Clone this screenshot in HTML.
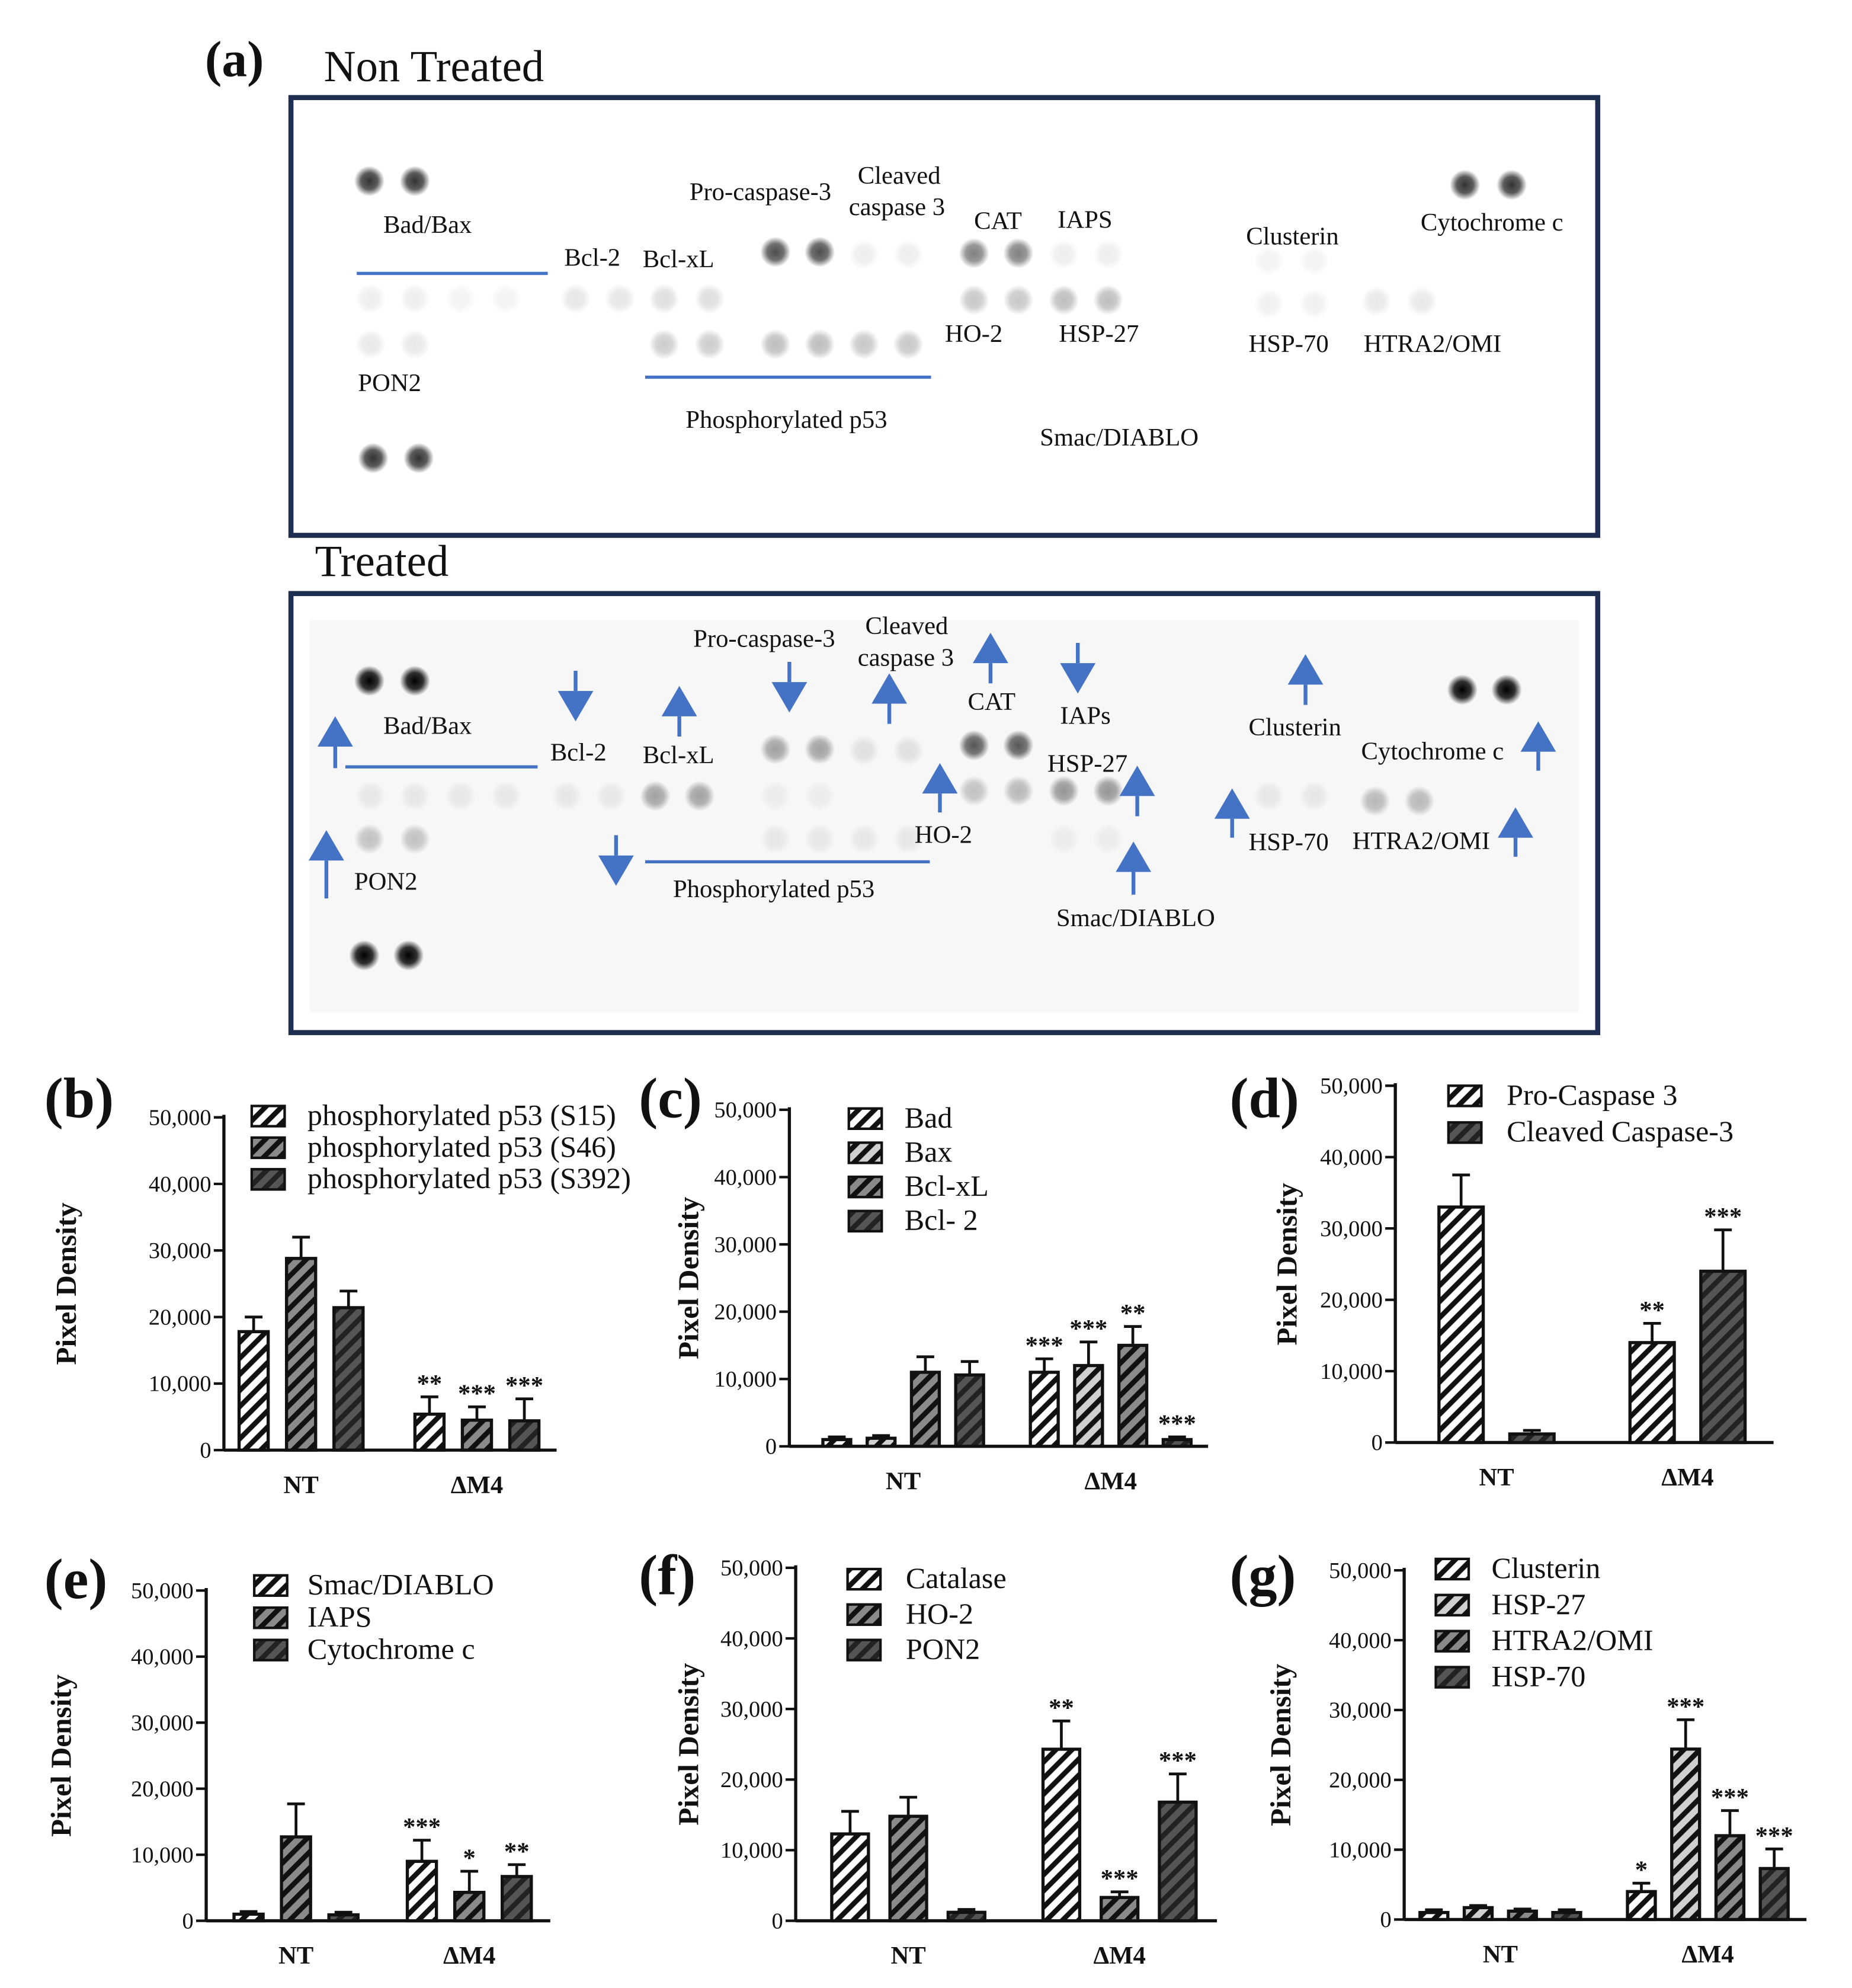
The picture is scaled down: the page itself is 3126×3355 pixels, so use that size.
<!DOCTYPE html>
<html><head><meta charset="utf-8">
<style>
html,body{margin:0;padding:0;background:#fff;}
svg{display:block;}
text{font-family:"Liberation Serif",serif;fill:#111;}
</style></head>
<body>
<svg id="fig" width="3126" height="3355" viewBox="0 0 1464 1571" xmlns="http://www.w3.org/2000/svg">
<defs>
<pattern id="p0" patternUnits="userSpaceOnUse" width="9" height="9" patternTransform="rotate(45)"><rect width="9" height="9" fill="#fff"/><rect width="4" height="9" fill="#111"/></pattern>
<pattern id="p1" patternUnits="userSpaceOnUse" width="9" height="9" patternTransform="rotate(45)"><rect width="9" height="9" fill="#d0d0d0"/><rect width="4" height="9" fill="#111"/></pattern>
<pattern id="p2" patternUnits="userSpaceOnUse" width="9" height="9" patternTransform="rotate(45)"><rect width="9" height="9" fill="#8a8a8a"/><rect width="4" height="9" fill="#111"/></pattern>
<pattern id="p3" patternUnits="userSpaceOnUse" width="9" height="9" patternTransform="rotate(45)"><rect width="9" height="9" fill="#555"/><rect width="4" height="9" fill="#222"/></pattern>
<radialGradient id="dotg"><stop offset="0" stop-color="#000" stop-opacity="1"/><stop offset="0.55" stop-color="#000" stop-opacity="0.8"/><stop offset="1" stop-color="#000" stop-opacity="0"/></radialGradient>
</defs>

<text x="162" y="60" font-size="40" font-weight="bold">(a)</text>
<text x="256" y="64" font-size="35">Non Treated</text>
<rect x="230" y="77" width="1033" height="346" fill="#fff" stroke="#1f2d50" stroke-width="4"/>
<text x="249" y="455" font-size="35">Treated</text>
<rect x="230" y="469" width="1033" height="347" fill="#fff" stroke="#1f2d50" stroke-width="4"/>
<rect x="245" y="490" width="1003" height="310" fill="#f7f7f7"/>
<g id="blot"></g>
<g id="charts"></g>
</svg>
<script>
const NS="http://www.w3.org/2000/svg";
const svg=document.getElementById('fig');
const blot=document.getElementById('blot');
const charts=document.getElementById('charts');
function mk(tag,attrs,parent,txt){const e=document.createElementNS(NS,tag);for(const k in attrs)e.setAttribute(k,attrs[k]);if(txt!==undefined)e.textContent=txt;(parent||svg).appendChild(e);return e;}

const ntDots=[[292,143,0.8],[328,143,0.8],[1158,146,0.8],[1195,146,0.8],[295,362,0.8],[331,362,0.8],[613,199,0.7],[648,199,0.7],[770,200,0.5],[805,200,0.5],
[683,201,0.07],[718,201,0.07],[841,201,0.07],[876,201,0.07],[1003,206,0.05],[1039,206,0.05],
[293,236,0.07],[328,236,0.07],[364,236,0.05],[400,236,0.05],[455,236,0.1],[490,236,0.1],[525,236,0.13],[561,236,0.13],[770,237,0.22],[805,237,0.22],[841,237,0.26],[876,237,0.26],[1003,240,0.06],[1039,240,0.06],[1088,238,0.09],[1124,238,0.09],
[293,272,0.09],[328,272,0.09],[525,272,0.2],[561,272,0.2],[613,272,0.26],[648,272,0.26],[683,272,0.22],[718,272,0.22]];
const tDots=[[292,538,1],[328,538,1],[1156,545,1],[1191,545,1],[288,755,1],[323,755,1],[613,592,0.35],[648,592,0.35],[770,589,0.65],[805,589,0.65],[683,593,0.1],[718,593,0.1],
[293,629,0.07],[328,629,0.07],[364,629,0.07],[400,629,0.07],[448,629,0.07],[483,629,0.07],[518,629,0.35],[553,629,0.35],[613,629,0.05],[648,629,0.05],[770,625,0.22],[805,625,0.26],[841,625,0.4],[876,625,0.4],[1003,629,0.07],[1039,629,0.07],[1087,633,0.26],[1122,633,0.26],
[292,663,0.22],[328,663,0.22],[613,663,0.07],[648,663,0.07],[683,663,0.07],[718,663,0.07],[841,663,0.05],[876,663,0.05]];
function dots(list,name){list.forEach(d=>{const c=mk('circle',{cx:d[0],cy:d[1],r:12,fill:'url(#dotg)',opacity:d[2]},blot);

});}
dots(ntDots,'blot-spot-non-treated');dots(tDots,'blot-spot-treated');

const blotLabels=[
[303,184,'Bad/Bax'],[446,210,'Bcl-2'],[508,211,'Bcl-xL'],[545,158,'Pro-caspase-3'],[678,145,'Cleaved'],[671,170,'caspase 3'],[770,181,'CAT'],[836,180,'IAPS'],[985,193,'Clusterin'],[1123,182,'Cytochrome c'],[747,270,'HO-2'],[837,270,'HSP-27'],[987,278,'HSP-70'],[1078,278,'HTRA2/OMI'],[283,309,'PON2'],[542,338,'Phosphorylated p53'],[822,352,'Smac/DIABLO'],
[303,580,'Bad/Bax'],[435,601,'Bcl-2'],[508,603,'Bcl-xL'],[548,511,'Pro-caspase-3'],[684,501,'Cleaved'],[678,526,'caspase 3'],[765,561,'CAT'],[838,572,'IAPs'],[987,581,'Clusterin'],[1076,600,'Cytochrome c'],[828,610,'HSP-27'],[723,666,'HO-2'],[987,672,'HSP-70'],[1069,671,'HTRA2/OMI'],[280,703,'PON2'],[532,709,'Phosphorylated p53'],[835,732,'Smac/DIABLO']];
blotLabels.forEach(l=>{const t=mk('text',{x:l[0],y:l[1],'font-size':20},blot,l[2]);

});
[[282,216,433],[510,298,736],[273,606,425],[510,681,735]].forEach(l=>{const e=mk('line',{x1:l[0],y1:l[1],x2:l[2],y2:l[1],stroke:'#4472c4','stroke-width':2.5},blot);

});
const arrows=[[265,607,566],[258,710,656],[537,582,542],[703,572,532],[783,540,500],[743,642,603],[899,645,605],[896,707,665],[974,662,623],[1032,557,517],[1216,609,570],[1198,677,638],[455,530,570],[624,523,563],[852,508,548],[487,660,700]];
arrows.forEach(a=>{const g=mk('g',{},blot);


const dir=a[2]<a[1]?1:-1;const hb=a[2]+dir*24;
mk('line',{x1:a[0],y1:a[1],x2:a[0],y2:hb,stroke:'#4472c4','stroke-width':3},g);
mk('polygon',{points:`${a[0]},${a[2]} ${a[0]-14},${hb} ${a[0]+14},${hb}`,fill:'#4472c4'},g);});

const bSeries=['phosphorylated p53 (S15)','phosphorylated p53 (S46)','phosphorylated p53 (S392)'];
const bNT=[17800,28800,21400];const bNTerr=[2200,3200,2500];
const bM4=[5400,4500,4400];const bM4err=[2600,2000,3300];const bStars=['**','***','***'];

const cSeries=['Bad','Bax','Bcl-xL','Bcl- 2'];
const cNT=[1000,1200,11000,10600];const cNTerr=[400,400,2300,2000];
const cM4=[11000,12000,15000,1000];const cM4err=[2000,3500,2800,400];const cStars=['***','***','**','***'];

const dSeries=['Pro-Caspase 3','Cleaved Caspase-3'];
const dNT=[33000,1200];const dNTerr=[4500,500];
const dM4=[14000,24000];const dM4err=[2700,5800];const dStars=['**','***'];

const eSeries=['Smac/DIABLO','IAPS','Cytochrome c'];
const eNT=[1000,12700,900];const eNTerr=[400,5000,400];
const eM4=[9000,4300,6700];const eM4err=[3200,3200,1800];const eStars=['***','*','**'];

const fSeries=['Catalase','HO-2','PON2'];
const fNT=[12300,14800,1200];const fNTerr=[3200,2700,400];
const fM4=[24300,3300,16800];const fM4err=[4000,800,4000];const fStars=['**','***','***'];

const gSeries=['Clusterin','HSP-27','HTRA2/OMI','HSP-70'];
const gNT=[1000,1700,1200,1000];const gNTerr=[400,300,300,400];
const gM4=[4000,24400,12000,7300];const gM4err=[1200,4200,3600,2800];const gStars=['*','***','***','***'];

const yTicks=[0,10000,20000,30000,40000,50000];
const tickLabels=['0','10,000','20,000','30,000','40,000','50,000'];
const groupLabels=['NT','ΔM4'];

function drawChart(id,L,series,nt,ntErr,m4,m4Err,stars){
  const g=mk('g',{},charts);
  
  
  const y=v=>L.y0-(L.y0-L.yTop)*v/50000;
  const pats=series.length===2?['p0','p3']:series.length===3?['p0','p2','p3']:['p0','p1','p2','p3'];
  const lt=mk('text',{x:L.lx,y:L.ly,'font-size':45,'font-weight':'bold'},g,'('+id+')');
  
  
  const ax=mk('line',{x1:L.x0,y1:L.yTop-2,x2:L.x0,y2:L.y0,stroke:'#111','stroke-width':2.5},g);
  
  
  const xa=mk('line',{x1:L.x0,y1:L.y0,x2:L.x1,y2:L.y0,stroke:'#111','stroke-width':2.5},g);
  
  
  yTicks.forEach((v,i)=>{
    const tk=mk('line',{x1:L.x0-8,y1:y(v),x2:L.x0,y2:y(v),stroke:'#111','stroke-width':2},g);
    
    
    const tl=mk('text',{x:L.x0-10,y:y(v)+6,'font-size':18,'text-anchor':'end'},g,tickLabels[i]);
    
    });
  const yl=mk('text',{x:0,y:0,'font-size':23,'font-weight':'bold','text-anchor':'middle',transform:`translate(${L.ylx},${(L.y0+L.yTop)/2}) rotate(-90)`},g,'Pixel Density');
  
  
  [[nt,ntErr,L.g0,null],[m4,m4Err,L.g1,stars]].forEach((grp,gi)=>{
    const n=grp[0].length;
    grp[0].forEach((v,i)=>{
      const bx=grp[2]+(i-(n-1)/2)*L.step-L.bw/2;
      const r=mk('rect',{x:bx,y:y(v),width:L.bw,height:L.y0-y(v),fill:`url(#${pats[i]})`,stroke:'#111','stroke-width':2.5},g);
      
      
      const cx=bx+L.bw/2,te=y(v+grp[1][i]);
      const eb=mk('path',{d:`M${cx},${y(v)}V${te}M${cx-7},${te}H${cx+7}`,stroke:'#111','stroke-width':2.2,fill:'none'},g);
      
      
      if(grp[3]){const st=mk('text',{x:cx,y:te-4,'font-size':20,'font-weight':'bold','text-anchor':'middle'},g,grp[3][i]);
      
      }
    });
    const gl=mk('text',{x:grp[2],y:L.y0+34,'font-size':20,'font-weight':'bold','text-anchor':'middle'},g,groupLabels[gi]);
    
    
  });
  series.forEach((s,i)=>{
    const ly=L.legY+i*L.legStep;
    const lb=mk('rect',{x:L.legX,y:ly-8,width:26,height:16,fill:`url(#${pats[i]})`,stroke:'#111','stroke-width':2},g);
    
    
    const lt2=mk('text',{x:L.legX+L.legGap,y:ly+7,'font-size':23.5},g,s);
    
    
  });
}
drawChart('b',{x0:177,x1:440,y0:1146,yTop:883,g0:238,g1:377,bw:23,step:37.5,lx:35,ly:883,ylx:60,legX:199,legY:882,legStep:25,legGap:44},bSeries,bNT,bNTerr,bM4,bM4err,bStars);
drawChart('c',{x0:624,x1:955,y0:1143,yTop:877,g0:714,g1:878,bw:22,step:35,lx:505,ly:883,ylx:552,legX:671,legY:884,legStep:27,legGap:44},cSeries,cNT,cNTerr,cM4,cM4err,cStars);
drawChart('d',{x0:1103,x1:1402,y0:1140,yTop:858,g0:1183,g1:1334,bw:35,step:56,lx:972,ly:883,ylx:1025,legX:1145,legY:866,legStep:29,legGap:46},dSeries,dNT,dNTerr,dM4,dM4err,dStars);
drawChart('e',{x0:163,x1:435,y0:1518,yTop:1257,g0:234,g1:371,bw:23,step:37.5,lx:35,ly:1263,ylx:56,legX:201,legY:1253,legStep:25.5,legGap:42},eSeries,eNT,eNTerr,eM4,eM4err,eStars);
drawChart('f',{x0:629,x1:962,y0:1518,yTop:1239,g0:718,g1:885,bw:29,step:46,lx:505,ly:1260,ylx:552,legX:670,legY:1248,legStep:28,legGap:46},fSeries,fNT,fNTerr,fM4,fM4err,fStars);
drawChart('g',{x0:1110,x1:1428,y0:1517,yTop:1241,g0:1186,g1:1350,bw:22,step:35,lx:972,ly:1260,ylx:1020,legX:1135,legY:1240,legStep:28.5,legGap:44},gSeries,gNT,gNTerr,gM4,gM4err,gStars);
</script>
</body></html>
